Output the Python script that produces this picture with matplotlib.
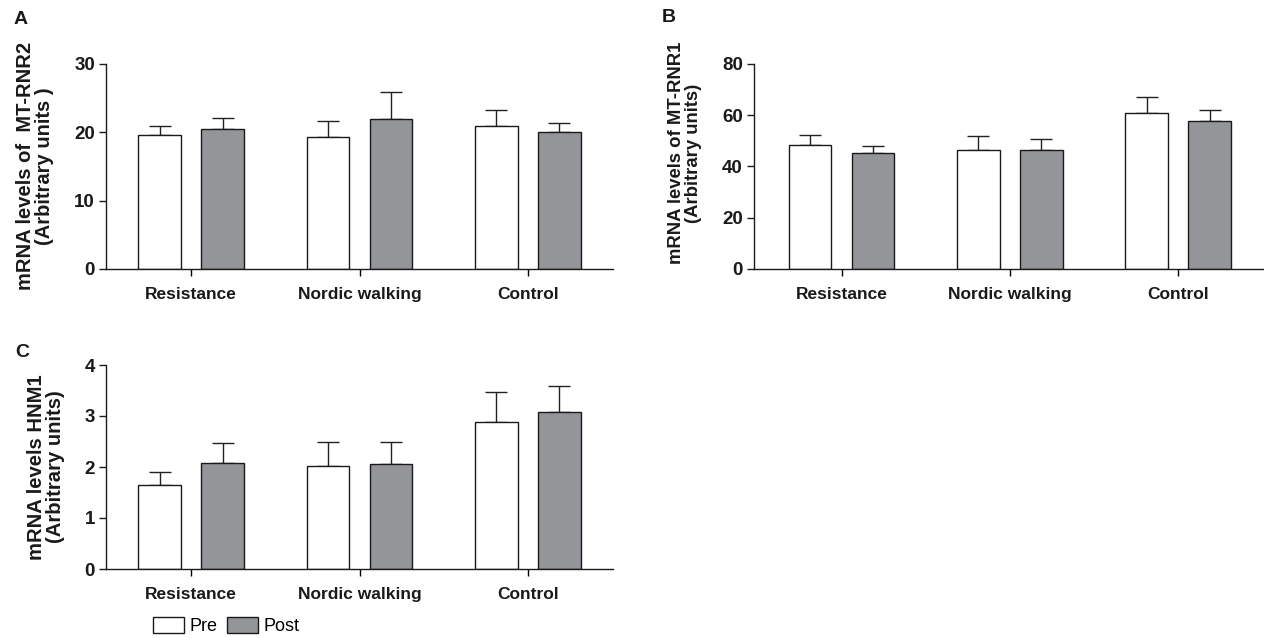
import matplotlib
matplotlib.use("Agg")
import matplotlib.pyplot as plt
import numpy as np
from matplotlib.patches import Patch

plt.rcParams['font.family'] = ['Liberation Sans', 'DejaVu Sans']

groups = ["Resistance", "Nordic walking", "Control"]
series = ["Pre", "Post"]

a_pre = [19.55, 19.35, 20.9]
a_pre_err = [1.4, 2.35, 2.3]
a_post = [20.5, 21.95, 20.0]
a_post_err = [1.6, 4.0, 1.35]

b_pre = [48.3, 46.4, 60.9]
b_pre_err = [4.1, 5.4, 6.4]
b_post = [45.4, 46.6, 57.6]
b_post_err = [2.5, 4.3, 4.6]

c_pre = [1.655, 2.025, 2.89]
c_pre_err = [0.245, 0.475, 0.58]
c_post = [2.085, 2.065, 3.08]
c_post_err = [0.395, 0.43, 0.51]

yticks_a = [0, 10, 20, 30]
yticks_b = [0, 20, 40, 60, 80]
yticks_c = [0, 1, 2, 3, 4]

post_color = "#939598"
W, H = 1264, 638
fig = plt.figure(figsize=(W / 100, H / 100), dpi=100)


def panel(rect, pre, pre_err, post, post_err, yticks, xlim):
    ax = fig.add_axes(rect)
    x = np.arange(len(groups))
    off = 0.187
    bw = 0.252
    ax.bar(x - off, pre, bw, color="white", edgecolor="#1a1a1a", linewidth=1.0, zorder=2)
    ax.bar(x + off, post, bw, color=post_color, edgecolor="#1a1a1a", linewidth=1.0, zorder=2)
    ax.errorbar(x - off, pre, yerr=[np.zeros(3), pre_err], fmt="none", ecolor="#222222",
                elinewidth=1.0, capsize=8, capthick=1.0, zorder=1)
    ax.errorbar(x + off, post, yerr=[np.zeros(3), post_err], fmt="none", ecolor="#222222",
                elinewidth=1.0, capsize=8, capthick=1.0, zorder=1)
    ax.set_xlim(*xlim)
    ax.set_ylim(yticks[0], yticks[-1])
    ax.set_yticks(yticks)
    ax.set_xticks(x)
    ax.set_xticklabels(groups, fontsize=12.5, fontweight="bold", color="#1a1a1a")
    ax.tick_params(axis="y", labelsize=13.5, length=5, width=1.0, pad=3, colors="#1a1a1a")
    ax.tick_params(axis="x", length=5, width=1.0, pad=8)
    for lab in ax.get_yticklabels():
        lab.set_fontweight("bold")
    for s in ("top", "right"):
        ax.spines[s].set_visible(False)
    for s in ("left", "bottom"):
        ax.spines[s].set_linewidth(1.0)
        ax.spines[s].set_color("#1a1a1a")
    return ax


def frect(x0, x1, ytop, ybot):
    return [x0 / W, 1 - ybot / H, (x1 - x0) / W, (ybot - ytop) / H]


axA = panel(frect(106, 613, 64, 269), a_pre, a_pre_err, a_post, a_post_err, yticks_a, (-0.505, 2.505))
axB = panel(frect(754, 1264, 64, 269), b_pre, b_pre_err, b_post, b_post_err, yticks_b, (-0.52, 2.51))
axC = panel(frect(106, 613, 365, 569), c_pre, c_pre_err, c_post, c_post_err, yticks_c, (-0.505, 2.505))

lab_kw = dict(rotation=90, ha="center", va="center", multialignment="center",
              fontweight="bold", linespacing=1.0, color="#1a1a1a")
fig.text(35 / W, 1 - 166 / H, "mRNA levels of  MT-RNR2\n(Arbitrary units )", fontsize=14.5, **lab_kw)
fig.text(685 / W, 1 - 153 / H, "mRNA levels of MT-RNR1\n(Arbitrary units)", fontsize=13.3, **lab_kw)
fig.text(46 / W, 1 - 467 / H, "mRNA levels HNM1\n(Arbitrary units)", fontsize=14.6, **lab_kw)

pan_kw = dict(fontsize=14, fontweight="bold", ha="center", va="center", color="#1a1a1a")
fig.text(21 / W, 1 - 19 / H, "A", **pan_kw)
fig.text(669 / W, 1 - 18 / H, "B", **pan_kw)
fig.text(22 / W, 1 - 353 / H, "C", **pan_kw)

handles = [Patch(facecolor="white", edgecolor="#1a1a1a", linewidth=1.0),
           Patch(facecolor=post_color, edgecolor="#1a1a1a", linewidth=1.0)]
fig.legend(handles, series, loc="center left", bbox_to_anchor=(153 / W, 1 - 626 / H),
           ncol=2, frameon=False, fontsize=13, handlelength=1.72, handleheight=0.95,
           handletextpad=0.3, columnspacing=0.55, borderpad=0.0, borderaxespad=0.0)

fig.savefig("out.png", dpi=100)
